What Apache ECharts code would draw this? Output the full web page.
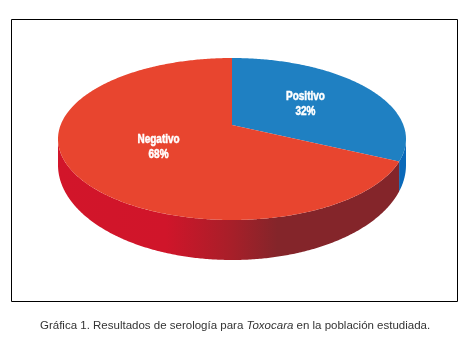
<!DOCTYPE html>
<html>
<head>
<meta charset="utf-8">
<style>html,body{margin:0;padding:0;background:#fff}#c{width:469px;height:343px}</style>
<script src="https://cdn.jsdelivr.net/npm/echarts@6/dist/echarts.min.js"></script>
</head>
<body>
<div id="c"></div>
<script>
var categories = ['Positivo', 'Negativo'];
var values = [32, 68];
var topColors = ['#1f80c2', '#e8452f'];

var chart = echarts.init(document.getElementById('c'), null, {renderer: 'canvas'});
var view = {cx: 232, rx: 174, topCy: 139, topRy: 81, apexY: 125, botCy: 165, botRy: 95};
var total = values.reduce(function (a, b) { return a + b; }, 0);

function rayParam(theta) {
  var dx = view.rx * Math.sin(theta), dy = -view.topRy * Math.cos(theta);
  var oy = view.apexY - view.topCy;
  var a = dx * dx / (view.rx * view.rx) + dy * dy / (view.topRy * view.topRy);
  var b = 2 * oy * dy / (view.topRy * view.topRy);
  var c = oy * oy / (view.topRy * view.topRy) - 1;
  var s = (-b + Math.sqrt(b * b - 4 * a * c)) / (2 * a);
  var t = Math.atan2(s * dx / view.rx, -(oy + s * dy) / view.topRy);
  return t < 0 ? t + 2 * Math.PI : t;
}
function arc(t0, t1, cy, ry) {
  var pts = [], n = Math.max(2, Math.ceil(Math.abs(t1 - t0) / 0.01));
  for (var i = 0; i <= n; i++) {
    var t = t0 + (t1 - t0) * i / n;
    pts.push([view.cx + view.rx * Math.sin(t), cy - ry * Math.cos(t)]);
  }
  return pts;
}
function sideFill(i) {
  if (i === 0) return '#0a69b9';
  return {
    type: 'linear', x: 58, y: 0, x2: 406, y2: 0, global: true,
    colorStops: [
      {offset: 0, color: '#d2152a'},
      {offset: 0.31, color: '#d0152a'},
      {offset: 0.5, color: '#a71f29'},
      {offset: 0.63, color: '#84252a'},
      {offset: 1, color: '#84252a'}
    ]
  };
}

function renderItem(params, api) {
  var i = params.dataIndex, v = api.value(0), before = 0;
  for (var k = 0; k < i; k++) before += values[k];
  var th0 = before / total * 2 * Math.PI, th1 = (before + v) / total * 2 * Math.PI;
  var t0 = rayParam(th0), t1 = rayParam(th1);
  var children = [];
  var s0 = Math.max(t0, Math.PI / 2), s1 = Math.min(t1, Math.PI * 1.5);
  if (s1 > s0) {
    children.push({
      type: 'polygon',
      shape: {points: arc(s0, s1, view.topCy, view.topRy).concat(arc(s1, s0, view.botCy, view.botRy))},
      style: {fill: sideFill(i)}
    });
  }
  children.push({
    type: 'polygon',
    shape: {points: [[view.cx, view.apexY]].concat(arc(t0, t1, view.topCy, view.topRy))},
    style: {fill: topColors[i]}
  });
  var mid = (th0 + th1) / 2;
  children.push({
    type: 'text', z2: 10,
    x: view.cx + 0.5 * view.rx * Math.sin(mid),
    y: view.apexY - 0.5 * view.topRy * Math.cos(mid) + 0.3,
    scaleX: 0.8,
    style: {
      x: 0, y: 0,
      text: categories[i] + '\n' + v + '%',
      fill: '#fff', stroke: '#fff', lineWidth: 0.5,
      font: 'bold 12.5px "Liberation Sans",sans-serif',
      align: 'center', verticalAlign: 'middle', lineHeight: 15
    }
  });
  return {type: 'group', children: children};
}

chart.setOption({
  animation: false,
  backgroundColor: '#fff',
  title: {
    left: 40, top: 319.5, padding: 0,
    text: '{n|Gráfica 1. Resultados de serología para }{i|Toxocara}{n| en la población estudiada.}',
    textStyle: {
      rich: {
        n: {fontFamily: '"Liberation Sans",Arial,sans-serif', fontSize: 11.5, color: '#333', fontWeight: 'normal'},
        i: {fontFamily: '"Liberation Sans",Arial,sans-serif', fontSize: 11.5, color: '#333', fontStyle: 'italic', fontWeight: 'normal'}
      }
    }
  },
  graphic: [{
    type: 'rect', silent: true,
    shape: {x: 11.5, y: 19.5, width: 446, height: 282},
    style: {fill: 'none', stroke: '#000', lineWidth: 1}
  }],
  series: [{
    type: 'custom', coordinateSystem: 'none', silent: true,
    renderItem: renderItem,
    data: values.map(function (v, i) { return {name: categories[i], value: [v]}; })
  }]
});
</script>
</body>
</html>
